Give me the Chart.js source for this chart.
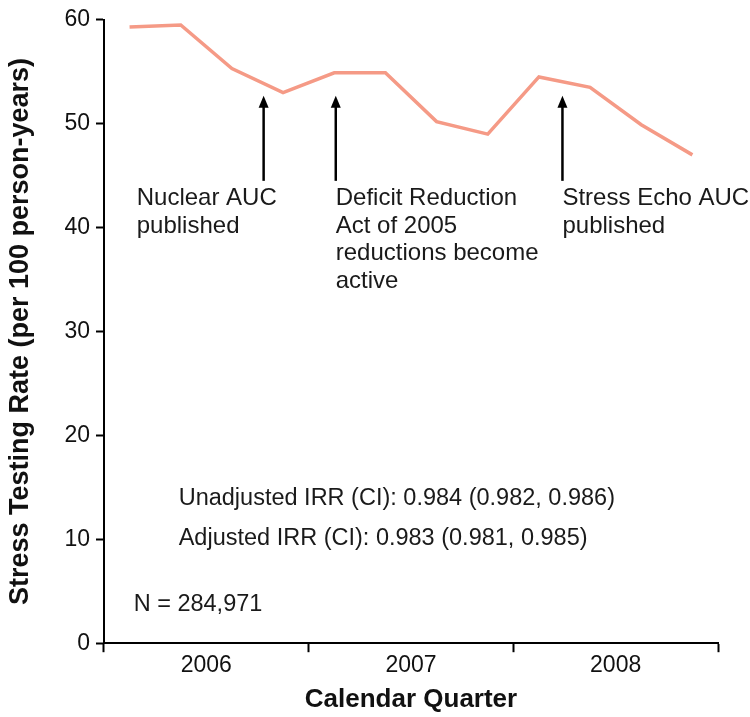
<!DOCTYPE html>
<html>
<head>
<meta charset="utf-8">
<script src="https://cdn.jsdelivr.net/npm/chart.js@4.4.1/dist/chart.umd.min.js"></script>
<style>
  body { margin: 0; background: #fff; }
  #wrap { width: 750px; height: 717px; }
</style>
</head>
<body>
<div id="wrap"><canvas id="chart1"></canvas></div>
<script>
// Données
const quarters = ['2006 T1', '2006 T2', '2006 T3', '2006 T4',
                  '2007 T1', '2007 T2', '2007 T3', '2007 T4',
                  '2008 T1', '2008 T2', '2008 T3', '2008 T4'];
const rates = [59.3, 59.5, 55.3, 53.0, 54.9, 54.9, 50.2, 49.0, 54.5, 53.5, 49.9, 47.0];
const years = ['2006', '2007', '2008'];
const yTicks = [0, 10, 20, 30, 40, 50, 60];

// Flèches (position en trimestres, début et fin en valeur y)
const arrowX = [3.12, 4.53, 8.96];
const arrowFrom = [44.5, 44.5, 44.5];
const arrowTo = [52.7, 52.7, 52.7];

// Textes des annotations
const noteX = [0.64, 4.53, 8.96];
const noteY = [42.8, 42.8, 42.8];
const noteLines = [
  ['Nuclear AUC', 'published'],
  ['Deficit Reduction', 'Act of 2005', 'reductions become', 'active'],
  ['Stress Echo AUC', 'published']
];
const statsX = [1.46, 1.46, 0.58];
const statsY = [13.9, 10.07, 3.74];
const statsText = ['Unadjusted IRR (CI): 0.984 (0.982, 0.986)',
                   'Adjusted IRR (CI): 0.983 (0.981, 0.985)',
                   'N = 284,971'];

const points = rates.map((v, i) => ({ x: i + 0.5, y: v }));
const font = '"Liberation Sans", Arial, Helvetica, sans-serif';

// Plugin pour dessiner flèches et textes
const notesPlugin = {
  id: 'notes',
  afterDatasetsDraw(chart) {
    const ctx = chart.ctx;
    const xs = chart.scales.x;
    const ys = chart.scales.y;
    ctx.save();
    ctx.strokeStyle = '#000';
    ctx.fillStyle = '#000';
    ctx.lineWidth = 2.5;
    for (let i = 0; i < arrowX.length; i++) {
      const px = xs.getPixelForValue(arrowX[i]);
      const y1 = ys.getPixelForValue(arrowFrom[i]);
      const y2 = ys.getPixelForValue(arrowTo[i]);
      ctx.beginPath();
      ctx.moveTo(px, y1);
      ctx.lineTo(px, y2 + 8);
      ctx.stroke();
      ctx.beginPath();
      ctx.moveTo(px, y2);
      ctx.lineTo(px - 5, y2 + 12);
      ctx.lineTo(px + 5, y2 + 12);
      ctx.closePath();
      ctx.fill();
    }
    ctx.fillStyle = '#1a1a1a';
    ctx.font = '24px ' + font;
    ctx.textBaseline = 'middle';
    ctx.textAlign = 'left';
    for (let i = 0; i < noteLines.length; i++) {
      const px = xs.getPixelForValue(noteX[i]);
      const py = ys.getPixelForValue(noteY[i]);
      noteLines[i].forEach((line, j) => ctx.fillText(line, px, py + j * 27.6));
    }
    ctx.font = '23.5px ' + font;
    for (let i = 0; i < statsText.length; i++) {
      ctx.fillText(statsText[i], xs.getPixelForValue(statsX[i]), ys.getPixelForValue(statsY[i]));
    }
    ctx.restore();
  }
};

new Chart(document.getElementById('chart1'), {
  type: 'line',
  data: {
    labels: quarters,
    datasets: [{
      label: 'Stress testing rate',
      data: points,
      borderColor: '#f59a86',
      borderWidth: 3.5,
      pointRadius: 0,
      tension: 0,
      fill: false
    }]
  },
  options: {
    responsive: true,
    maintainAspectRatio: false,
    animation: false,
    layout: { padding: { top: 0, right: 32, left: 4, bottom: 2 } },
    plugins: {
      legend: { display: false },
      tooltip: { enabled: false }
    },
    scales: {
      x: {
        type: 'linear',
        min: 0,
        max: 12,
        afterBuildTicks: (axis) => {
          axis.ticks = [0, 2, 4, 6, 8, 10, 12].map(v => ({ value: v }));
        },
        ticks: {
          autoSkip: false,
          maxRotation: 0,
          color: '#111',
          padding: 0,
          font: { family: font, size: 23 },
          callback: (v) => (v % 4 === 2 ? years[(v - 2) / 4] : '')
        },
        grid: {
          drawOnChartArea: false,
          drawTicks: true,
          tickLength: 9,
          tickWidth: 2,
          tickColor: (c) => (c.tick && c.tick.value % 4 === 0 ? '#000' : 'rgba(0,0,0,0)')
        },
        border: { display: true, color: '#000', width: 2 },
        title: {
          display: true,
          text: 'Calendar Quarter',
          color: '#111',
          font: { family: font, size: 26, weight: 'bold' },
          padding: { top: 4, bottom: 0 }
        }
      },
      y: {
        min: 0,
        max: 60,
        afterBuildTicks: (axis) => {
          axis.ticks = yTicks.map(v => ({ value: v }));
        },
        ticks: {
          color: '#111',
          padding: 6,
          font: { family: font, size: 23 }
        },
        grid: {
          drawOnChartArea: false,
          drawTicks: true,
          tickLength: 8,
          tickWidth: 2,
          tickColor: '#000'
        },
        border: { display: true, color: '#000', width: 2 },
        title: {
          display: true,
          text: 'Stress Testing Rate (per 100 person-years)',
          color: '#111',
          font: { family: font, size: 27, weight: 'bold' },
          padding: { top: 0, bottom: 22 }
        }
      }
    }
  },
  plugins: [notesPlugin]
});
</script>
</body>
</html>
